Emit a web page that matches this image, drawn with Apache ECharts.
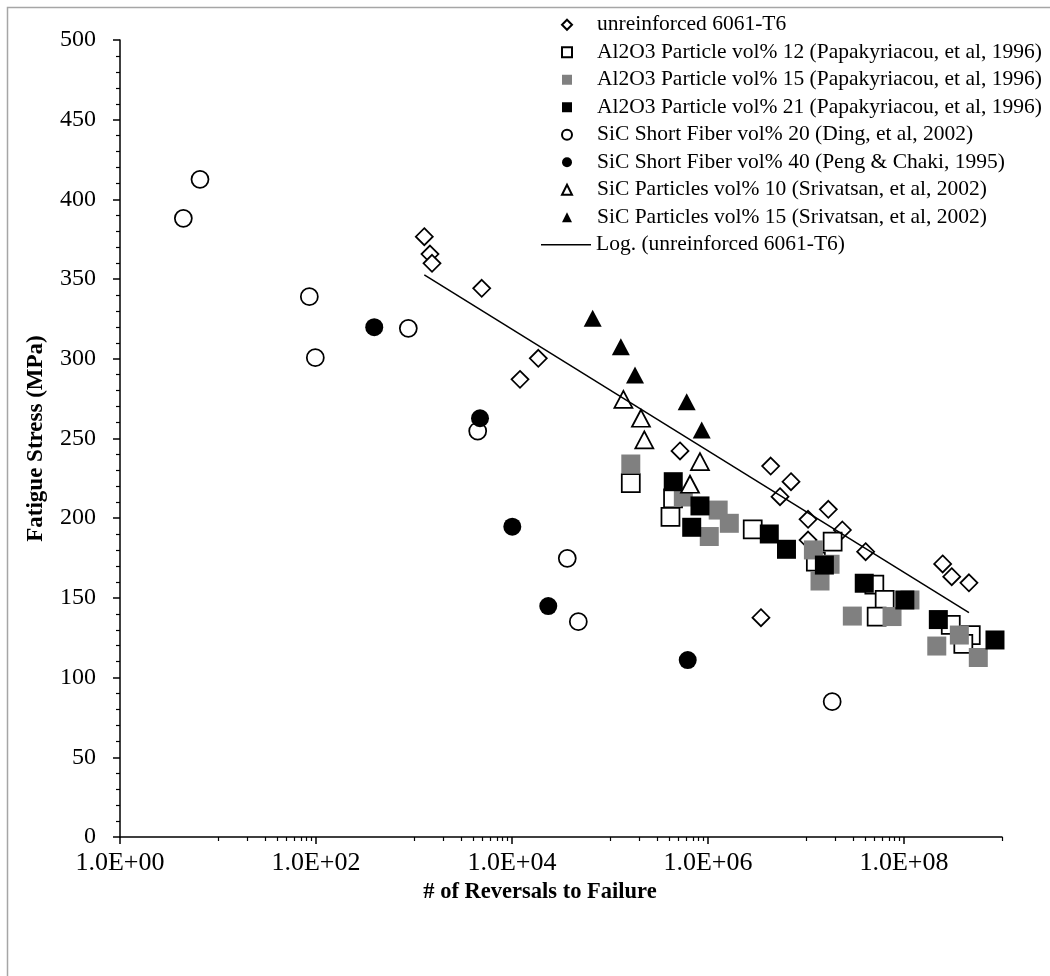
<!DOCTYPE html>
<html><head><meta charset="utf-8">
<script src="https://cdn.jsdelivr.net/npm/echarts@6/dist/echarts.min.js"></script>
<style>html,body{margin:0;padding:0;background:#fff}#c{width:1050px;height:976px}</style>
</head><body><div id="c"></div>
<script>
// ---- data (N reversals, stress MPa) ----
const seriesNames = [
  'unreinforced 6061-T6',
  'Al2O3 Particle vol% 12 (Papakyriacou, et al, 1996)',
  'Al2O3 Particle vol% 15 (Papakyriacou, et al, 1996)',
  'Al2O3 Particle vol% 21 (Papakyriacou, et al, 1996)',
  'SiC Short Fiber vol% 20 (Ding, et al, 2002)',
  'SiC Short Fiber vol% 40 (Peng & Chaki, 1995)',
  'SiC Particles vol% 10 (Srivatsan, et al, 2002)',
  'SiC Particles vol% 15 (Srivatsan, et al, 2002)',
  'Log. (unreinforced 6061-T6)'
];
const unreinforced = [
  [1274, 376.6], [1456, 365.7], [1527, 359.9], [4909, 344.2], [12070, 287.1],
  [18550, 300.3], [518000, 242.2], [4.36e6, 232.7], [7.03e6, 222.9], [5.43e6, 213.5],
  [1.69e7, 205.6], [1.05e7, 199.3], [2.35e7, 192.6], [1.05e7, 186.3], [4.06e7, 179.0],
  [3.47e6, 137.6], [2.48e8, 171.3], [3.07e8, 163.3], [4.6e8, 159.5]
];
const al2o3_12 = [
  [1.63e5, 222.0], [4.40e5, 212.5], [4.14e5, 200.9], [2.86e6, 193.0], [1.87e7, 185.3],
  [1.26e7, 172.7], [4.98e7, 158.3], [6.35e7, 148.7], [5.26e7, 138.2], [3.0e8, 133.0],
  [4.8e8, 126.7], [4.03e8, 121.1]
];
const al2o3_15 = [
  [1.63e5, 234.0], [5.6e5, 213.3], [1.27e6, 205.1], [1.65e6, 196.8], [1.03e6, 188.5],
  [1.19e7, 180.1], [1.76e7, 171.1], [1.39e7, 160.6], [1.15e8, 148.7], [2.97e7, 138.6],
  [7.55e7, 138.3], [3.67e8, 126.7], [2.16e8, 119.8], [5.73e8, 112.6]
];
const al2o3_21 = [
  [4.42e5, 222.9], [8.28e5, 207.7], [6.82e5, 194.3], [4.22e6, 190.1], [6.32e6, 180.5],
  [1.54e7, 170.6], [3.93e7, 159.2], [1.02e8, 148.7], [2.24e8, 136.4], [8.48e8, 123.6]
];
const sicFiber20 = [
  [4.43, 388.1], [6.55, 412.6], [85.5, 339.0], [98.4, 300.7], [875, 319.1],
  [4467, 254.7], [36650, 174.8], [47500, 135.1], [1.85e7, 84.9]
];
const sicFiber40 = [
  [393, 319.8], [4715, 262.7], [10070, 194.7], [23450, 144.9], [6.21e5, 111.0]
];
const sicPart10 = [
  [1.37e5, 274.5], [2.07e5, 262.7], [2.24e5, 249.1], [8.28e5, 235.5], [6.55e5, 221.3]
];
const sicPart15 = [
  [66570, 325.4], [1.29e5, 307.6], [1.80e5, 289.8], [6.06e5, 273.1], [8.63e5, 255.3]
];
const logTrend = [[1274, 352.6], [4.6e8, 140.7]];
const xMajorTicks = [1, 1e2, 1e4, 1e6, 1e8];
const yTicks = [0, 50, 100, 150, 200, 250, 300, 350, 400, 450, 500];

// minor ticks of the Excel base-100 log axis (10..90 x 100^m)
const xMinorTicks = [];
for (let m = 0; m <= 4; m++) for (let k = 1; k <= 9; k++) {
  const v = 10 * k * Math.pow(100, m);
  if (v <= 1e9) xMinorTicks.push(v);
}

const FONT = 'Liberation Serif';
const black = '#000';
const fmtX = v => {
  const e = Math.round(Math.log10(v));
  return '1.0E+' + String(e).padStart(2, '0');
};

const openStyle = { color: '#fff', borderColor: black, borderWidth: 1.75, opacity: 1 };
function sc(i, data, symbol, size, style) {
  return { name: seriesNames[i], type: 'scatter', data: data, symbol: symbol, symbolSize: size,
    itemStyle: style, emphasis: { disabled: true }, z: 2 + i * 0.01 };
}
const legendText = { fontFamily: FONT, fontSize: 21.5, color: black, lineHeight: 27.5 };

const chart = echarts.init(document.getElementById('c'), null, { renderer: 'canvas' });
chart.setOption({
  animation: false,
  backgroundColor: '#fff',
  graphic: [{ type: 'rect', shape: { x: 7.5, y: 7.5, width: 1200, height: 1200 },
    style: { fill: 'none', stroke: '#a6a6a6', lineWidth: 1.5 }, z: -10 }],
  grid: { left: 120, right: 48, top: 40, bottom: 139, containLabel: false },
  legend: [{
    orient: 'vertical', left: 561, top: 11, padding: 0, itemGap: 0,
    itemWidth: 10, itemHeight: 10, selectedMode: false,
    textStyle: Object.assign({ padding: [0, 0, 0, 20] }, legendText),
    data: seriesNames.slice(0, 8)
  }, {
    orient: 'vertical', left: 541, top: 11 + 8 * 27.5, padding: 0, itemGap: 0,
    itemWidth: 50, itemHeight: 1.5, selectedMode: false,
    textStyle: legendText,
    data: [{ name: seriesNames[8], icon: 'rect', itemStyle: { color: black } }]
  }],
  xAxis: [{
    type: 'log', logBase: 10, min: 1, max: 1e9,
    name: '# of Reversals to Failure', nameLocation: 'middle', nameGap: 37,
    nameTextStyle: { fontFamily: FONT, fontSize: 22.5, fontWeight: 'bold', color: black, padding: [0, 42, 0, 0] },
    axisLine: { show: true, onZero: false, lineStyle: { color: black, width: 1.5 } },
    axisTick: { show: true, inside: false, length: 7, customValues: xMajorTicks, lineStyle: { color: black, width: 1.5 } },
    axisLabel: { customValues: xMajorTicks, formatter: fmtX, margin: 13, fontFamily: FONT, fontSize: 26, color: black },
    splitLine: { show: false }, minorTick: { show: false }
  }, {
    type: 'log', logBase: 10, min: 1, max: 1e9, position: 'bottom',
    axisLine: { show: false },
    axisTick: { show: true, inside: false, length: 4, customValues: xMinorTicks, lineStyle: { color: black, width: 1.2 } },
    axisLabel: { show: false }, splitLine: { show: false }
  }],
  yAxis: {
    type: 'value', min: 0, max: 500, interval: 50,
    name: 'Fatigue Stress (MPa)', nameLocation: 'middle', nameGap: 72,
    nameTextStyle: { fontFamily: FONT, fontSize: 23, fontWeight: 'bold', color: black },
    axisLine: { show: true, lineStyle: { color: black, width: 1.5 } },
    axisTick: { show: true, inside: false, length: 7, customValues: yTicks, lineStyle: { color: black, width: 1.5 } },
    minorTick: { show: true, splitNumber: 5, length: 4, lineStyle: { color: black, width: 1.2 } },
    axisLabel: { customValues: yTicks, margin: 24, fontFamily: FONT, fontSize: 24, color: black },
    splitLine: { show: false }, minorSplitLine: { show: false }
  },
  series: [
    sc(0, unreinforced, 'diamond', 17, openStyle),
    sc(1, al2o3_12, 'rect', 18, openStyle),
    sc(2, al2o3_15, 'rect', 19, { color: '#808080', opacity: 1 }),
    sc(3, al2o3_21, 'rect', 19, { color: black, opacity: 1 }),
    sc(4, sicFiber20, 'circle', 17, openStyle),
    sc(5, sicFiber40, 'circle', 18, { color: black, opacity: 1 }),
    sc(6, sicPart10, 'triangle', [18, 17], openStyle),
    sc(7, sicPart15, 'triangle', [18, 17], { color: black, opacity: 1 }),
    { name: seriesNames[8], type: 'line', data: logTrend, symbol: 'none', z: 3,
      lineStyle: { color: black, width: 1.5 }, itemStyle: { color: black }, emphasis: { disabled: true } }
  ]
});
</script>
</body></html>
